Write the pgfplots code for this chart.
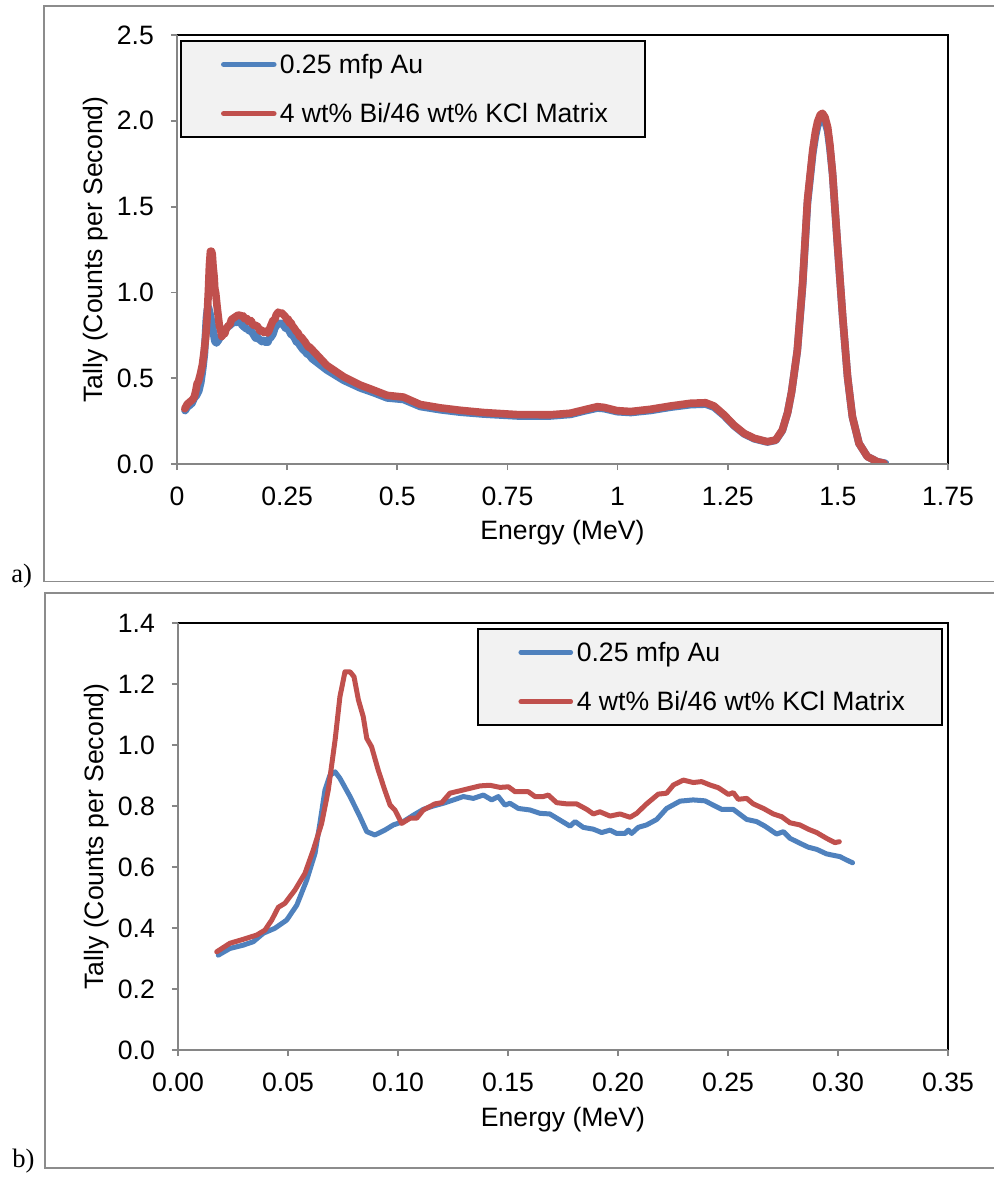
\documentclass[border=0pt]{standalone}
\usepackage{pgfplots}
\pgfplotsset{compat=1.18}
\usepackage{pgfplotstable}
\usepackage{fontspec}
\setmainfont{Liberation Sans}
\newfontfamily\seriffont{Liberation Serif}
\definecolor{xlblue}{HTML}{4F81BD}
\definecolor{xlred}{HTML}{C0504D}
\definecolor{axgray}{HTML}{868686}
\definecolor{frgray}{HTML}{8C8C8C}
\definecolor{leggray}{HTML}{F2F2F2}

\pgfplotstableread{
E T
0.0183 0.311
0.0236 0.333
0.0297 0.344
0.0342 0.355
0.0388 0.383
0.0440 0.399
0.0494 0.426
0.0540 0.475
0.0585 0.557
0.0623 0.645
0.0645 0.743
0.0668 0.852
0.0690 0.900
0.0714 0.912
0.0736 0.891
0.0782 0.831
0.0827 0.765
0.0858 0.716
0.0895 0.705
0.0940 0.721
0.0979 0.738
0.1024 0.749
0.1070 0.770
0.1115 0.789
0.1160 0.800
0.1206 0.809
0.1252 0.820
0.1297 0.831
0.1342 0.825
0.1388 0.836
0.1426 0.820
0.1456 0.831
0.1486 0.803
0.1509 0.809
0.1547 0.792
0.1600 0.787
0.1645 0.776
0.1690 0.774
0.1736 0.754
0.1782 0.734
0.1805 0.749
0.1842 0.730
0.1888 0.724
0.1926 0.713
0.1964 0.721
0.1994 0.710
0.2032 0.710
0.2047 0.721
0.2062 0.710
0.2092 0.730
0.2130 0.738
0.2176 0.756
0.2221 0.792
0.2282 0.816
0.2342 0.820
0.2395 0.817
0.2433 0.803
0.2471 0.789
0.2524 0.789
0.2585 0.756
0.2630 0.749
0.2668 0.734
0.2721 0.708
0.2752 0.716
0.2782 0.694
0.2827 0.678
0.2865 0.665
0.2903 0.658
0.2948 0.643
0.3009 0.634
0.3039 0.623
0.3066 0.614
0.340 0.548
0.378 0.488
0.416 0.443
0.446 0.416
0.477 0.385
0.514 0.376
0.552 0.335
0.598 0.316
0.643 0.302
0.696 0.291
0.772 0.280
0.848 0.280
0.893 0.289
0.923 0.308
0.954 0.326
0.969 0.323
0.999 0.305
1.030 0.300
1.075 0.312
1.120 0.331
1.166 0.346
1.200 0.349
1.219 0.331
1.242 0.281
1.264 0.223
1.287 0.176
1.310 0.147
1.340 0.128
1.359 0.138
1.374 0.195
1.386 0.300
1.395 0.420
1.408 0.660
1.420 1.040
1.431 1.520
1.443 1.810
1.449 1.910
1.454 1.970
1.460 2.005
1.465 2.020
1.471 1.995
1.477 1.940
1.482 1.840
1.488 1.690
1.499 1.280
1.511 0.855
1.522 0.507
1.533 0.275
1.548 0.120
1.567 0.043
1.590 0.013
1.608 0.004
}\blueT

\pgfplotstableread{
E T
0.0176 0.322
0.0236 0.350
0.0297 0.363
0.0358 0.377
0.0395 0.393
0.0426 0.426
0.0456 0.468
0.0486 0.481
0.0532 0.525
0.0577 0.579
0.0615 0.656
0.0653 0.743
0.0683 0.852
0.0714 1.016
0.0736 1.158
0.0759 1.240
0.0782 1.240
0.0800 1.224
0.0820 1.148
0.0842 1.093
0.0858 1.022
0.0880 0.994
0.0910 0.918
0.0940 0.852
0.0964 0.803
0.0986 0.787
0.1017 0.743
0.1055 0.760
0.1085 0.760
0.1115 0.787
0.1168 0.807
0.1199 0.811
0.1236 0.842
0.1282 0.850
0.1327 0.858
0.1373 0.866
0.1418 0.868
0.1464 0.861
0.1502 0.863
0.1532 0.847
0.1592 0.847
0.1623 0.831
0.1660 0.831
0.1683 0.836
0.1721 0.811
0.1767 0.807
0.1812 0.807
0.1858 0.789
0.1888 0.774
0.1918 0.781
0.1964 0.767
0.2009 0.774
0.2055 0.763
0.2085 0.776
0.2130 0.807
0.2183 0.839
0.2221 0.842
0.2252 0.869
0.2297 0.885
0.2342 0.877
0.2380 0.880
0.2418 0.869
0.2456 0.860
0.2502 0.838
0.2524 0.844
0.2547 0.822
0.2585 0.825
0.2615 0.807
0.2661 0.792
0.2706 0.774
0.2744 0.765
0.2782 0.745
0.2827 0.738
0.2865 0.724
0.2903 0.713
0.2948 0.694
0.2986 0.680
0.3006 0.683
0.340 0.575
0.378 0.509
0.416 0.460
0.446 0.431
0.477 0.400
0.514 0.390
0.552 0.347
0.598 0.327
0.643 0.313
0.696 0.300
0.772 0.288
0.848 0.287
0.893 0.296
0.923 0.315
0.954 0.334
0.969 0.330
0.999 0.311
1.030 0.306
1.075 0.319
1.120 0.338
1.166 0.354
1.200 0.357
1.219 0.338
1.242 0.286
1.264 0.227
1.287 0.179
1.310 0.150
1.340 0.130
1.359 0.140
1.374 0.198
1.386 0.300
1.395 0.420
1.408 0.664
1.420 1.053
1.431 1.538
1.443 1.830
1.449 1.935
1.454 1.995
1.460 2.035
1.465 2.044
1.471 2.020
1.477 1.960
1.482 1.860
1.488 1.694
1.499 1.286
1.511 0.858
1.522 0.509
1.533 0.276
1.548 0.120
1.567 0.043
1.590 0.013
1.605 0.004
}\redT

\newcommand\fs{\fontsize{13.3}{15.5}\selectfont}

\pgfplotsset{
  exstyle/.style={
    scale only axis,
    clip mode=individual,
    axis line style={draw=none},
    tick pos=left,
    tick align=outside,
    major tick length=3pt,
    tick style={axgray, line width=0.9pt},
    ticklabel style={font=\fs},
    xticklabel style={yshift=-5pt},
    yticklabel style={xshift=-5pt},
    ylabel={Tally (Counts per Second)},
    xlabel={Energy (MeV)},
    every axis y label/.style={at={(axis description cs:0,0.5)}, xshift=-40.5pt, rotate=90, anchor=center, font=\fs},
    every axis x label/.style={at={(axis description cs:0.5,0)}, yshift=-34.5pt, anchor=center, font=\fs},
    legend cell align=left,
    legend style={draw=black, line width=0.8pt, fill=leggray, font=\fs,
      inner xsep=18.5pt, inner ysep=6.5pt, row sep=14pt,
      nodes={inner sep=0pt, text height=9.8pt, text depth=0.8pt}},
  },
}

\begin{document}
\begin{tikzpicture}
\useasboundingbox (0pt,0pt) rectangle (497pt,-589.5pt);
\begin{scope}[x=0.5pt,y=-0.5pt]
\draw[frgray, line width=0.75pt] (994,6) -- (44,6) -- (44,581.5) -- (994,581.5);
\draw[frgray, line width=0.75pt] (994,593) -- (45,593) -- (45,1168) -- (994,1168);
\node[font=\seriffont\fs, anchor=base west, inner sep=0pt] at (11,582) {a)};
\node[font=\seriffont\fs, anchor=base west, inner sep=0pt] at (12,1167) {b)};
\end{scope}

% panel a
\begin{axis}[exstyle,
  at={(88.5pt,-232pt)}, anchor=south west,
  width=385.5pt, height=214.5pt,
  xmin=0, xmax=1.75, ymin=0, ymax=2.5,
  xtick={0,0.25,0.5,0.75,1,1.25,1.5,1.75},
  xticklabels={0,0.25,0.5,0.75,1,1.25,1.5,1.75},
  ytick={0,0.5,1,1.5,2,2.5},
  yticklabels={0.0,0.5,1.0,1.5,2.0,2.5},
  legend image code/.code={\path[draw=none] (0pt,0pt) (31pt,0pt);\draw[#1, line width=2.8pt, line cap=round] (3pt,0pt) -- (28pt,0pt);},
  legend style={at={(axis description cs:0,1)}, anchor=north west, xshift=1.5pt, yshift=-2.5pt},
]
\addplot[xlblue, line width=3.8pt, line join=round, line cap=round] table[x=E,y=T] {\blueT};
\addlegendentry{0.25 mfp Au}
\addplot[xlred, line width=3.8pt, line join=round, line cap=round] table[x=E,y=T] {\redT};
\addlegendentry{4 wt\% Bi/46 wt\% KCl Matrix}
\draw[black, line width=1pt] (rel axis cs:0,1) -- (rel axis cs:1,1) -- (rel axis cs:1,0);
\draw[axgray, line width=1pt] (rel axis cs:0,1) -- (rel axis cs:0,0) -- (rel axis cs:1,0);
\end{axis}

% panel b
\begin{axis}[exstyle,
  at={(89pt,-525pt)}, anchor=south west,
  width=385pt, height=213.5pt,
  xmin=0, xmax=0.35, ymin=0, ymax=1.4,
  xtick={0,0.05,0.1,0.15,0.2,0.25,0.3,0.35},
  xticklabels={0.00,0.05,0.10,0.15,0.20,0.25,0.30,0.35},
  ytick={0,0.2,0.4,0.6,0.8,1.0,1.2,1.4},
  yticklabels={0.0,0.2,0.4,0.6,0.8,1.0,1.2,1.4},
  every axis x label/.append style={yshift=-0.5pt},
  legend image code/.code={\path[draw=none] (0pt,0pt) (31pt,0pt);\draw[#1, line width=2.3pt, line cap=round] (3pt,0pt) -- (28pt,0pt);},
  legend style={at={(axis description cs:0.3883,1)}, anchor=north west, yshift=-2.5pt},
]
\addplot[xlblue, line width=2.5pt, line join=round, line cap=round, restrict x to domain=0:0.307] table[x=E,y=T] {\blueT};
\addlegendentry{0.25 mfp Au}
\addplot[xlred, line width=2.5pt, line join=round, line cap=round, restrict x to domain=0:0.301] table[x=E,y=T] {\redT};
\addlegendentry{4 wt\% Bi/46 wt\% KCl Matrix}
\draw[black, line width=1pt] (rel axis cs:0,1) -- (rel axis cs:1,1) -- (rel axis cs:1,0);
\draw[axgray, line width=1pt] (rel axis cs:0,1) -- (rel axis cs:0,0) -- (rel axis cs:1,0);
\end{axis}
\end{tikzpicture}
\end{document}
